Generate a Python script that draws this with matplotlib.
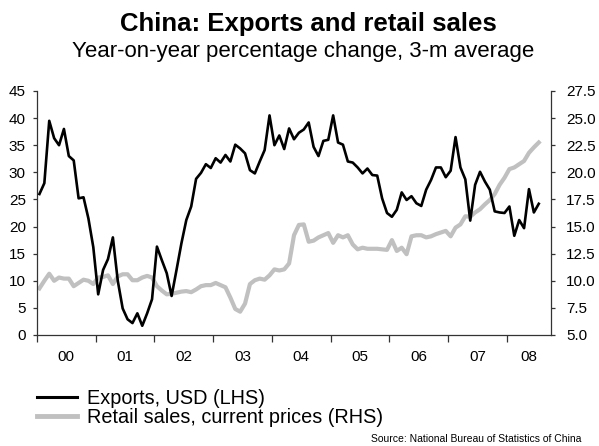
import numpy as np
import matplotlib
matplotlib.use("Agg")
import matplotlib.pyplot as plt
from matplotlib.lines import Line2D

plt.rcParams['font.family'] = ['Liberation Sans', 'DejaVu Sans']

# Monthly series, Jan 2000 - Jul 2008 (3-month average, % y/y)
exports = [26.0, 28.0, 39.5, 36.3, 35.0, 38.0, 33.0, 32.2, 25.2, 25.4,
           21.5, 16.2, 7.5, 12.0, 14.0, 18.0, 10.0, 4.9, 2.9, 2.2,
           4.0, 1.7, 4.0, 6.6, 16.3, 13.8, 11.4, 7.2, 12.0, 16.9,
           21.2, 23.7, 28.8, 29.9, 31.5, 30.8, 32.6, 31.8, 33.2, 32.0,
           35.1, 34.4, 33.5, 30.4, 29.8, 32.0, 34.1, 40.5, 35.0, 36.8,
           34.3, 38.1, 36.1, 37.3, 37.9, 39.2, 34.7, 33.0, 35.8, 36.0,
           40.5, 35.5, 35.1, 32.0, 31.8, 30.9, 29.8, 30.7, 29.5, 29.4,
           25.2, 22.5, 21.8, 23.1, 26.3, 24.9, 25.6, 24.3, 23.8, 26.8,
           28.6, 30.9, 30.9, 29.1, 30.3, 36.5, 30.9, 28.7, 21.1, 27.7,
           30.1, 28.3, 26.8, 22.8, 22.6, 22.5, 23.7, 18.3, 21.2, 19.7,
           26.9, 22.6, 24.2]
retail = [9.3, 10.0, 10.65, 10.0, 10.3, 10.2, 10.2, 9.5, 9.8, 10.1,
          10.0, 9.7, 10.3, 10.35, 10.5, 9.7, 10.4, 10.6, 10.6, 10.05,
          10.05, 10.3, 10.45, 10.3, 9.5, 9.1, 8.75, 8.8, 8.9, 9.0,
          9.05, 8.95, 9.2, 9.5, 9.6, 9.6, 9.8, 9.6, 9.4, 8.45,
          7.4, 7.15, 7.9, 9.7, 10.05, 10.2, 10.1, 10.5, 11.05, 10.95,
          11.05, 11.6, 14.2, 15.15, 15.2, 13.6, 13.7, 14.0, 14.2, 14.4,
          13.5, 14.2, 14.0, 14.2, 13.35, 12.9, 13.05, 12.95, 12.95, 12.95,
          12.9, 12.85, 13.75, 12.75, 13.05, 12.45, 14.1, 14.2, 14.2, 14.0,
          14.1, 14.3, 14.45, 14.6, 14.1, 14.9, 15.2, 15.95, 15.9, 16.3,
          16.6, 17.05, 17.45, 18.0, 18.85, 19.5, 20.3, 20.45, 20.75, 21.05,
          21.8, 22.3, 22.75]
year_labels = ['00', '01', '02', '03', '04', '05', '06', '07', '08']
left_ticks = [0, 5, 10, 15, 20, 25, 30, 35, 40, 45]
right_ticks = [5.0, 7.5, 10.0, 12.5, 15.0, 17.5, 20.0, 22.5, 25.0, 27.5]

n = len(exports)
x = np.arange(n) + 0.5          # mid-month positions
x_end = 105                     # axis runs to end of Sep 2008

fig = plt.figure(figsize=(5.99, 4.46), dpi=100)
ax = fig.add_axes([37 / 599, 1 - 335 / 446, (551 - 37) / 599, (335 - 91) / 446])
ax2 = ax.twinx()

ax2.plot(x, retail, color='#c0c0c0', lw=3.0, solid_joinstyle='round', zorder=1)
ax.plot(x, exports, color='black', lw=1.9, solid_joinstyle='round', zorder=3)
ax.set_zorder(ax2.get_zorder() + 1)
ax.patch.set_visible(False)

ax.set_xlim(0, x_end)
ax.set_ylim(0, 45)
ax2.set_ylim(5, 27.5)

axis_col = '#333333'
for a in (ax, ax2):
    a.spines['top'].set_visible(False)
    for s in ('left', 'right', 'bottom'):
        a.spines[s].set_color(axis_col)
        a.spines[s].set_linewidth(0.9)
ax.spines['right'].set_visible(False)
ax2.spines['left'].set_visible(False)
ax2.spines['bottom'].set_visible(False)

ax.set_yticks(left_ticks)
ax.set_yticklabels([str(t) for t in left_ticks])
ax2.set_yticks(right_ticks)
ax2.set_yticklabels([f'{t:.1f}' for t in right_ticks])

# year boundaries as major ticks, labels centred in each year
bounds = list(range(0, 97, 12))
ax.set_xticks(bounds)
ax.set_xticklabels([''] * len(bounds))
centres = [min(b + 12, x_end) / 2 + b / 2 for b in bounds]
ax.set_xticks(centres, minor=True)
ax.set_xticklabels(year_labels, minor=True)
ax.tick_params(axis='x', which='minor', length=0, pad=11, labelsize=11)
ax.tick_params(axis='x', which='major', length=5, width=0.9, color=axis_col, direction='out')
ax.tick_params(axis='y', length=3, width=0.9, color=axis_col, labelsize=11, pad=5)
ax2.tick_params(axis='y', length=3, width=0.9, color=axis_col, labelsize=11, pad=8)

fig.text(0.515, 1 - 24 / 446, 'China: Exports and retail sales', ha='center', va='center',
         fontsize=18.5, fontweight='bold')
fig.text(0.506, 1 - 51 / 446, 'Year-on-year percentage change, 3-m average', ha='center',
         va='center', fontsize=16)

handles = [Line2D([], [], color='black', lw=2.2),
           Line2D([], [], color='#c0c0c0', lw=3.5)]
fig.legend(handles, ['Exports, USD (LHS)', 'Retail sales, current prices (RHS)'],
           loc='upper left', bbox_to_anchor=(37 / 599, 1 - 389 / 446), frameon=False,
           fontsize=14.3, handlelength=2.0, handletextpad=0.5, labelspacing=0.0,
           borderaxespad=0, borderpad=0)

fig.text(581 / 599, 1 - 439 / 446, 'Source: National Bureau of Statistics of China',
         ha='right', va='center', fontsize=7.5)

fig.savefig('out.png', dpi=100)
